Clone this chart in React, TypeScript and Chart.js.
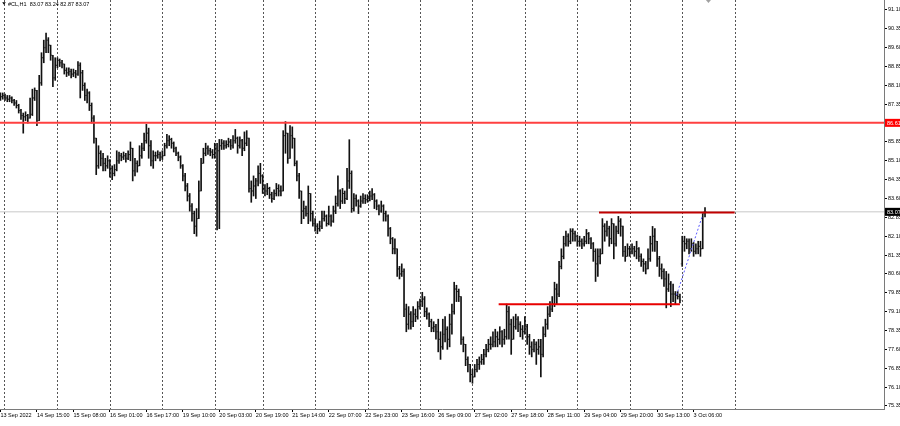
import React, { useEffect, useRef } from "react";
import { Chart, registerables } from "chart.js";
Chart.register(...registerables);

const symbolTitle = "#CL,H1  83.07 83.24 82.87 83.07";

const opens = [
  87.6, 87.65, 87.7, 87.6, 87.55, 87.6, 87.5, 87.4, 87.3, 87.1,
  86.9, 86.85, 86.9, 86.8, 86.95, 87.6, 87.9, 86.7, 88.2, 89.2,
  89.6, 89.9, 89.7, 89.3, 88.4, 88.9, 89.1, 89.0, 88.95, 88.7,
  88.6, 88.65, 88.55, 88.6, 88.55, 88.9, 88.6, 88.1, 87.7, 87.8,
  87.3, 86.8, 86.0, 84.9, 85.4, 85.2, 85.0, 84.9, 85.1, 84.8,
  84.6, 84.75, 85.1, 85.3, 85.25, 85.3, 85.2, 85.35, 85.6, 84.7,
  85.0, 84.9, 85.3, 85.6, 85.9, 86.2, 85.7, 85.1, 85.3, 85.3,
  85.35, 85.25, 85.3, 85.7, 85.9, 85.95, 85.8, 85.6, 85.4, 85.25,
  84.9, 84.5, 84.1, 83.7, 83.3, 83.0, 82.5, 82.8, 83.9, 85.0,
  85.4, 85.6, 85.5, 85.45, 85.35, 85.6, 85.5, 85.7, 85.8, 85.7,
  85.75, 85.85, 85.7, 85.9, 86.0, 85.7, 85.9, 85.6, 85.8, 86.0,
  84.0, 83.9, 84.1, 84.3, 84.6, 84.5, 84.0, 83.9, 84.0, 83.75,
  83.6, 83.8, 84.0, 83.9, 83.9, 86.1, 86.2, 85.2, 86.1, 86.0,
  85.0, 84.5, 83.9, 83.1, 83.2, 83.0, 83.8, 83.0, 82.6, 82.5,
  82.4, 82.5, 82.8, 82.9, 82.6, 82.9, 82.7, 83.1, 83.4, 83.9,
  83.5, 83.8, 83.6, 84.3, 84.6, 83.2, 83.6, 83.5, 83.3, 83.5,
  83.6, 83.55, 83.6, 83.7, 83.75, 83.5, 83.3, 83.1, 83.3, 83.0,
  82.9, 82.4, 82.0, 81.6, 81.6, 80.8, 80.6, 80.7, 79.2, 78.6,
  79.0, 78.7, 79.0, 78.9, 79.3, 79.5, 79.6, 79.1, 79.0, 78.7,
  78.45, 78.5, 78.3, 78.0, 77.7, 78.2, 78.4, 78.0, 78.6, 79.1,
  80.0, 79.9, 79.7, 78.0, 77.8, 77.2, 77.0, 76.6, 76.5, 76.8,
  77.0, 77.1, 77.2, 77.4, 77.6, 77.8, 77.8, 77.9, 78.1, 78.0,
  78.3, 78.0, 78.1, 79.1, 78.6, 78.0, 78.5, 78.8, 78.6, 78.4,
  78.3, 78.5, 78.1, 77.7, 77.6, 77.8, 77.6, 77.7, 77.4, 78.2,
  78.6, 79.0, 79.2, 79.4, 80.0, 79.8, 80.9, 81.3, 81.8, 82.1,
  81.9, 82.3, 82.2, 82.1, 81.9, 81.9, 81.8, 81.9, 82.2, 82.0,
  81.8, 81.5, 81.0, 81.3, 81.4, 82.5, 82.3, 82.4, 82.0, 82.6,
  81.8, 82.3, 82.7, 82.5, 81.5, 81.3, 81.6, 81.5, 81.6, 81.5,
  81.6, 81.3, 81.1, 81.0, 80.8, 81.2, 81.8, 82.1, 81.9, 81.2,
  80.8, 80.7, 80.4, 80.0, 80.2, 79.8, 79.8, 79.75, 79.7, 81.0,
  81.9, 81.8, 81.9, 81.6, 81.8, 81.5, 81.6, 81.7, 81.6, 83.07,
];

const highs = [
  87.8, 87.8, 87.75, 87.7, 87.7, 87.65, 87.55, 87.5, 87.35, 87.15,
  87.0, 87.05, 86.95, 87.6, 87.95, 88.0, 87.9, 88.5, 89.4, 89.9,
  90.18, 90.0, 89.7, 89.3, 89.2, 89.2, 89.15, 89.1, 88.95, 88.8,
  88.8, 88.75, 88.75, 88.7, 89.05, 89.0, 88.7, 88.2, 87.95, 87.85,
  87.4, 86.9, 86.0, 85.7, 85.5, 85.4, 85.2, 85.3, 85.15, 84.9,
  84.95, 85.5, 85.45, 85.4, 85.45, 85.4, 85.5, 85.85, 85.2, 85.2,
  85.1, 85.7, 85.8, 86.2, 86.55, 86.4, 85.9, 85.5, 85.45, 85.5,
  85.45, 85.5, 85.8, 86.15, 86.1, 86.0, 85.85, 85.65, 85.45, 85.3,
  84.95, 84.6, 84.2, 83.8, 83.4, 83.1, 83.2, 84.3, 85.2, 85.6,
  85.8, 85.7, 85.6, 85.55, 85.8, 85.8, 85.95, 85.95, 85.9, 85.9,
  86.0, 85.95, 86.1, 86.35, 86.05, 86.05, 85.95, 86.25, 86.3, 85.9,
  84.3, 84.5, 84.4, 84.9, 85.0, 84.55, 84.15, 84.2, 84.05, 83.85,
  83.95, 84.2, 84.15, 84.1, 86.3, 86.66, 86.2, 86.5, 86.45, 86.0,
  85.1, 84.6, 83.9, 83.5, 83.3, 84.1, 83.8, 83.1, 82.8, 82.6,
  82.7, 83.1, 83.1, 82.95, 83.3, 82.95, 83.3, 83.7, 84.5, 83.95,
  84.0, 83.9, 84.8, 85.94, 84.7, 83.8, 83.75, 83.55, 83.7, 83.8,
  83.75, 83.75, 83.9, 84.0, 83.8, 83.55, 83.35, 83.5, 83.35, 83.1,
  82.95, 82.45, 82.05, 82.0, 81.6, 80.9, 81.0, 80.8, 79.4, 79.3,
  79.1, 79.3, 79.2, 79.5, 79.6, 79.87, 79.7, 79.25, 79.05, 78.8,
  78.7, 78.6, 78.8, 78.3, 78.8, 78.9, 78.5, 79.0, 79.4, 80.27,
  80.15, 80.0, 79.7, 78.1, 77.7, 77.3, 77.0, 76.8, 77.0, 77.2,
  77.3, 77.4, 77.6, 77.8, 78.0, 78.1, 78.3, 78.4, 78.3, 78.5,
  78.35, 78.4, 79.4, 79.3, 78.8, 78.9, 79.0, 78.9, 78.7, 78.55,
  78.9, 78.6, 78.2, 77.9, 78.0, 77.9, 78.0, 78.0, 78.5, 78.8,
  79.3, 79.5, 79.7, 80.27, 80.2, 81.1, 81.6, 82.1, 82.3, 82.2,
  82.4, 82.4, 82.3, 82.15, 82.1, 82.0, 82.1, 82.37, 82.25, 82.05,
  81.85, 81.6, 81.6, 81.6, 82.8, 82.6, 82.7, 82.5, 82.8, 82.6,
  82.5, 82.89, 82.8, 82.5, 81.7, 81.8, 81.7, 81.8, 81.7, 81.9,
  81.65, 81.4, 81.2, 81.1, 81.6, 82.1, 82.49, 82.4, 81.9, 81.3,
  81.0, 80.8, 80.7, 80.6, 80.3, 80.2, 79.9, 79.9, 79.8, 82.1,
  82.1, 82.0, 82.0, 82.0, 81.85, 81.8, 81.9, 81.9, 83.0, 83.24,
];

const lows = [
  87.5, 87.55, 87.5, 87.45, 87.45, 87.4, 87.3, 87.2, 87.0, 86.75,
  86.2, 86.7, 86.6, 86.8, 86.9, 87.5, 86.5, 86.7, 88.1, 89.0,
  89.4, 89.4, 89.1, 88.05, 88.3, 88.8, 88.85, 88.8, 88.55, 88.45,
  88.5, 88.4, 88.45, 88.4, 88.5, 87.6, 87.9, 87.5, 87.4, 87.1,
  86.6, 85.8, 84.55, 84.8, 84.9, 84.7, 84.7, 84.8, 84.45, 84.35,
  84.5, 84.7, 85.0, 85.1, 85.15, 85.05, 85.15, 85.1, 84.3, 84.5,
  84.65, 84.9, 85.2, 85.5, 85.8, 85.2, 84.9, 84.8, 85.1, 85.2,
  85.1, 85.15, 85.3, 85.6, 85.7, 85.6, 85.45, 85.3, 85.1, 84.8,
  84.3, 83.9, 83.5, 83.1, 82.7, 82.2, 82.1, 82.9, 84.0, 85.0,
  85.3, 85.35, 85.3, 85.2, 85.2, 82.35, 82.4, 85.55, 85.55, 85.6,
  85.65, 85.55, 85.6, 85.8, 85.4, 85.6, 85.3, 85.5, 85.7, 83.85,
  83.45, 83.7, 83.6, 84.1, 84.2, 83.8, 83.7, 83.75, 83.6, 83.45,
  83.55, 83.7, 83.7, 83.7, 83.9, 85.4, 85.0, 85.5, 85.6, 84.9,
  84.3, 83.6, 82.6, 82.8, 82.9, 82.6, 82.7, 82.5, 82.3, 82.2,
  82.3, 82.4, 82.7, 82.5, 82.55, 82.5, 82.65, 83.0, 83.3, 83.2,
  83.4, 83.4, 83.55, 84.0, 83.05, 83.1, 83.3, 83.0, 83.25, 83.4,
  83.4, 83.45, 83.5, 83.55, 83.2, 83.15, 82.95, 83.05, 82.7, 82.7,
  82.1, 81.8, 81.4, 81.4, 80.5, 80.4, 80.5, 78.9, 78.3, 78.4,
  78.4, 78.5, 78.7, 78.8, 79.2, 79.3, 78.9, 78.8, 78.5, 78.3,
  78.3, 78.0, 77.5, 77.2, 77.6, 77.9, 77.6, 77.7, 78.2, 79.0,
  79.5, 79.5, 77.8, 77.5, 76.95, 76.7, 76.3, 76.25, 76.5, 76.7,
  76.8, 77.0, 77.0, 77.3, 77.5, 77.6, 77.7, 77.7, 77.7, 77.8,
  77.7, 77.8, 78.0, 78.0, 77.4, 78.0, 78.4, 78.3, 78.1, 78.0,
  78.2, 77.8, 77.4, 77.3, 77.5, 77.0, 77.4, 76.5, 77.3, 78.1,
  78.4, 78.9, 79.1, 79.3, 79.4, 79.7, 80.8, 81.2, 81.7, 81.7,
  81.8, 81.9, 81.9, 81.7, 81.7, 81.6, 81.7, 81.8, 81.8, 81.6,
  81.1, 80.3, 80.5, 81.0, 81.4, 81.9, 82.1, 81.7, 81.8, 81.2,
  81.7, 82.2, 82.1, 81.3, 81.1, 81.3, 81.3, 81.4, 81.3, 81.2,
  81.1, 80.9, 80.7, 80.6, 80.8, 81.1, 81.5, 81.5, 80.9, 80.5,
  80.4, 80.1, 79.25, 79.9, 79.3, 79.5, 79.4, 79.6, 79.45, 80.9,
  81.5, 81.6, 81.4, 81.5, 81.3, 81.4, 81.4, 81.3, 81.6, 82.87,
];

const closes = [
  87.65, 87.7, 87.6, 87.55, 87.6, 87.5, 87.4, 87.3, 87.1, 86.9,
  86.85, 86.9, 86.8, 86.95, 87.6, 87.9, 86.7, 88.2, 89.2, 89.6,
  89.9, 89.7, 89.3, 88.4, 88.9, 89.1, 89.0, 88.95, 88.7, 88.6,
  88.65, 88.55, 88.6, 88.55, 88.9, 88.6, 88.1, 87.7, 87.8, 87.3,
  86.8, 86.0, 84.9, 85.4, 85.2, 85.0, 84.9, 85.1, 84.8, 84.6,
  84.75, 85.1, 85.3, 85.25, 85.3, 85.2, 85.35, 85.6, 84.7, 85.0,
  84.9, 85.3, 85.6, 85.9, 86.2, 85.7, 85.1, 85.3, 85.3, 85.35,
  85.25, 85.3, 85.7, 85.9, 85.95, 85.8, 85.6, 85.4, 85.25, 84.9,
  84.5, 84.1, 83.7, 83.3, 83.0, 82.5, 82.8, 83.9, 85.0, 85.4,
  85.6, 85.5, 85.45, 85.35, 85.6, 85.5, 85.7, 85.8, 85.7, 85.75,
  85.85, 85.7, 85.9, 86.0, 85.7, 85.9, 85.6, 85.8, 86.0, 84.0,
  83.9, 84.1, 84.3, 84.6, 84.5, 84.0, 83.9, 84.0, 83.75, 83.6,
  83.8, 84.0, 83.9, 83.9, 86.1, 86.2, 85.2, 86.1, 86.0, 85.0,
  84.5, 83.9, 83.1, 83.2, 83.0, 83.8, 83.0, 82.6, 82.5, 82.4,
  82.5, 82.8, 82.9, 82.6, 82.9, 82.7, 83.1, 83.4, 83.9, 83.5,
  83.8, 83.6, 84.3, 84.6, 83.2, 83.6, 83.5, 83.3, 83.5, 83.6,
  83.55, 83.6, 83.7, 83.75, 83.5, 83.3, 83.1, 83.3, 83.0, 82.9,
  82.4, 82.0, 81.6, 81.6, 80.8, 80.6, 80.7, 79.2, 78.6, 79.0,
  78.7, 79.0, 78.9, 79.3, 79.5, 79.6, 79.1, 79.0, 78.7, 78.45,
  78.5, 78.3, 78.0, 77.7, 78.2, 78.4, 78.0, 78.6, 79.1, 80.0,
  79.9, 79.7, 78.0, 77.8, 77.2, 77.0, 76.6, 76.5, 76.8, 77.0,
  77.1, 77.2, 77.4, 77.6, 77.8, 77.8, 77.9, 78.1, 78.0, 78.3,
  78.0, 78.1, 79.1, 78.6, 78.0, 78.5, 78.8, 78.6, 78.4, 78.3,
  78.5, 78.1, 77.7, 77.6, 77.8, 77.6, 77.7, 77.4, 78.2, 78.6,
  79.0, 79.2, 79.4, 80.0, 79.8, 80.9, 81.3, 81.8, 82.1, 81.9,
  82.3, 82.2, 82.1, 81.9, 81.9, 81.8, 81.9, 82.2, 82.0, 81.8,
  81.5, 81.0, 81.3, 81.4, 82.5, 82.3, 82.4, 82.0, 82.6, 81.8,
  82.3, 82.7, 82.5, 81.5, 81.3, 81.6, 81.5, 81.6, 81.5, 81.6,
  81.3, 81.1, 81.0, 80.8, 81.2, 81.8, 82.1, 81.9, 81.2, 80.8,
  80.7, 80.4, 80.0, 80.2, 79.8, 79.8, 79.75, 79.7, 79.55, 81.9,
  81.8, 81.9, 81.6, 81.8, 81.5, 81.6, 81.7, 81.6, 83.0, 83.07,
];

const xTickBars = [0, 16, 32, 48, 64, 80, 96, 112, 128, 144, 160, 176, 192, 208, 224, 240, 256, 272, 288, 304];
const xTickLabels = [
  "13 Sep 2022", "14 Sep 15:00", "15 Sep 08:00", "16 Sep 01:00", "16 Sep 17:00",
  "19 Sep 10:00", "20 Sep 03:00", "20 Sep 19:00", "21 Sep 14:00", "22 Sep 07:00",
  "22 Sep 23:00", "23 Sep 16:00", "26 Sep 09:00", "27 Sep 02:00", "27 Sep 18:00",
  "28 Sep 11:00", "29 Sep 04:00", "29 Sep 20:00", "30 Sep 13:00", "3 Oct 06:00",
];
const yTickValues = [
  75.35, 76.1, 76.85, 77.6, 78.35, 79.1, 79.85, 80.6, 81.35, 82.1, 82.85,
  83.6, 84.35, 85.1, 85.85, 86.6, 87.35, 88.1, 88.85, 89.6, 90.35, 91.1,
];
const daySeparators = [1.5, 25, 48, 71, 94, 115, 138, 161, 184, 207, 230, 253, 276, 299, 322];

const xMin = -0.2;
const xMax = 387.5;
const yMin = 75.227;
const yMax = 91.497;

const resistanceLevel = 86.61;
const currentPrice = 83.07;
const upperZone = { level: 83.04, from: 262.5, to: 322 };
const lowerZone = { level: 79.39, from: 218.5, to: 298 };
const trendStart = { bar: 296.5, price: 79.75 };
const trendEnd = { bar: 307.9, price: 82.93 };
const shiftMarkerBar = 310.5;

const FONT_FAMILY = "'Liberation Sans', Arial, sans-serif";
const tickFont = { family: FONT_FAMILY, size: 5.5 };

const mtPlugin = {
  id: "mtDecor",
  beforeDatasetsDraw(chart: any) {
    const { ctx, chartArea, scales } = chart;
    ctx.save();
    ctx.strokeStyle = "#555555";
    ctx.lineWidth = 1;
    ctx.setLineDash([2, 2]);
    daySeparators.forEach((b) => {
      const px = Math.round(scales.x.getPixelForValue(b)) + 0.5;
      ctx.beginPath();
      ctx.moveTo(px, chartArea.top);
      ctx.lineTo(px, chartArea.bottom);
      ctx.stroke();
    });
    ctx.restore();
  },
  afterDatasetDraw(chart: any, args: any) {
    if (args.index !== 1) return;
    const { ctx, scales } = chart;
    ctx.save();
    ctx.fillStyle = "rgba(0,0,0,0.55)";
    closes.forEach((c, i) => {
      const px = scales.x.getPixelForValue(i);
      const yo = scales.y.getPixelForValue(opens[i]);
      const yc = scales.y.getPixelForValue(c);
      ctx.fillRect(px - 1.5, yo - 0.5, 1, 1);
      ctx.fillRect(px + 0.5, yc - 0.5, 1, 1);
    });
    ctx.restore();
  },
  afterDraw(chart: any) {
    const { ctx, chartArea, scales } = chart;
    ctx.save();
    ctx.fillStyle = "#000";
    ctx.beginPath();
    ctx.moveTo(2.2, 2.2);
    ctx.lineTo(5.8, 2.2);
    ctx.lineTo(4, 4.8);
    ctx.closePath();
    ctx.fill();
    ctx.font = `5.5px ${FONT_FAMILY}`;
    ctx.textBaseline = "middle";
    ctx.textAlign = "left";
    ctx.fillText(symbolTitle, 8, 4);
    const sx = scales.x.getPixelForValue(shiftMarkerBar);
    ctx.fillStyle = "#a0a0a0";
    ctx.beginPath();
    ctx.moveTo(sx - 2.5, 0);
    ctx.lineTo(sx + 2.5, 0);
    ctx.lineTo(sx, 3);
    ctx.closePath();
    ctx.fill();
    const drawBox = (value: number, bg: string) => {
      const py = scales.y.getPixelForValue(value);
      ctx.fillStyle = bg;
      ctx.fillRect(chartArea.right + 1, py - 4, 20, 8);
      ctx.fillStyle = "#fff";
      ctx.fillText(value.toFixed(2), chartArea.right + 3, py + 0.5);
    };
    drawBox(resistanceLevel, "#ff0000");
    drawBox(currentPrice, "#000000");
    ctx.restore();
  },
};

export default function App() {
  const canvasRef = useRef<HTMLCanvasElement | null>(null);

  useEffect(() => {
    document.body.style.margin = "0";
    const canvas = canvasRef.current;
    if (!canvas) return;

    const barData = closes.map((c, i) => ({
      x: i,
      y: [Math.min(lows[i], opens[i], c), Math.max(highs[i], opens[i], c)],
    }));

    const chart = new Chart(canvas, {
      type: "bar",
      data: {
        datasets: [
          {
            type: "line",
            data: [
              { x: xMin, y: currentPrice },
              { x: xMax, y: currentPrice },
            ],
            borderColor: "#c8c8c8",
            borderWidth: 1,
            pointRadius: 0,
            order: 3,
          } as any,
          {
            type: "bar",
            data: barData,
            backgroundColor: "#111",
            borderWidth: 0,
            barThickness: 1,
            grouped: false,
            order: 2,
          } as any,
          {
            type: "line",
            data: [
              { x: xMin, y: resistanceLevel },
              { x: xMax, y: resistanceLevel },
            ],
            borderColor: "#ff4040",
            borderWidth: 2,
            pointRadius: 0,
            order: 1,
          } as any,
          {
            type: "line",
            data: [
              { x: upperZone.from, y: upperZone.level },
              { x: upperZone.to, y: upperZone.level },
            ],
            borderColor: "#c00000",
            borderWidth: 2,
            pointRadius: 0,
            order: 1,
          } as any,
          {
            type: "line",
            data: [
              { x: lowerZone.from, y: lowerZone.level },
              { x: lowerZone.to, y: lowerZone.level },
            ],
            borderColor: "#e80000",
            borderWidth: 2,
            pointRadius: 0,
            order: 1,
          } as any,
          {
            type: "line",
            data: [
              { x: trendStart.bar, y: trendStart.price },
              { x: trendEnd.bar, y: trendEnd.price },
            ],
            borderColor: "#5a5aff",
            borderWidth: 1,
            borderDash: [2, 2],
            pointRadius: 0,
            order: 0,
          } as any,
        ],
      },
      options: {
        animation: false,
        responsive: false,
        maintainAspectRatio: false,
        devicePixelRatio: 1,
        layout: { padding: 0 },
        plugins: {
          legend: { display: false },
          tooltip: { enabled: false },
        },
        events: [],
        scales: {
          x: {
            type: "linear",
            min: xMin,
            max: xMax,
            offset: false,
            grid: {
              display: true,
              drawOnChartArea: false,
              drawTicks: true,
              tickLength: 3,
              color: "#000",
              offset: false,
            },
            border: { display: true, color: "#7a7a7a", width: 1 },
            ticks: {
              autoSkip: false,
              maxRotation: 0,
              minRotation: 0,
              align: "start",
              padding: 0,
              font: tickFont,
              color: "#000",
              callback: (_v: any, i: number) => xTickLabels[i] ?? "",
            },
            afterBuildTicks: (s: any) => {
              s.ticks = xTickBars.map((v) => ({ value: v }));
            },
            afterFit: (s: any) => {
              s.height = 17;
              s.paddingLeft = 0;
              s.paddingRight = 0;
            },
          } as any,
          y: {
            type: "linear",
            position: "right",
            min: yMin,
            max: yMax,
            grid: {
              display: true,
              drawOnChartArea: false,
              drawTicks: true,
              tickLength: 3,
              color: "#000",
            },
            border: { display: true, color: "#7a7a7a", width: 1 },
            ticks: {
              autoSkip: false,
              padding: 1,
              font: tickFont,
              color: "#000",
              callback: (v: any) => Number(v).toFixed(2),
            },
            afterBuildTicks: (s: any) => {
              s.ticks = yTickValues.map((v) => ({ value: v }));
            },
            afterFit: (s: any) => {
              s.width = 16;
              s.paddingTop = 0;
              s.paddingBottom = 0;
            },
          } as any,
        },
      },
      plugins: [mtPlugin],
    });

    return () => chart.destroy();
  }, []);

  return (
    <div style={{ width: 900, height: 426, background: "#fff" }}>
      <canvas ref={canvasRef} width={900} height={426} style={{ display: "block", width: 900, height: 426 }} />
    </div>
  );
}
